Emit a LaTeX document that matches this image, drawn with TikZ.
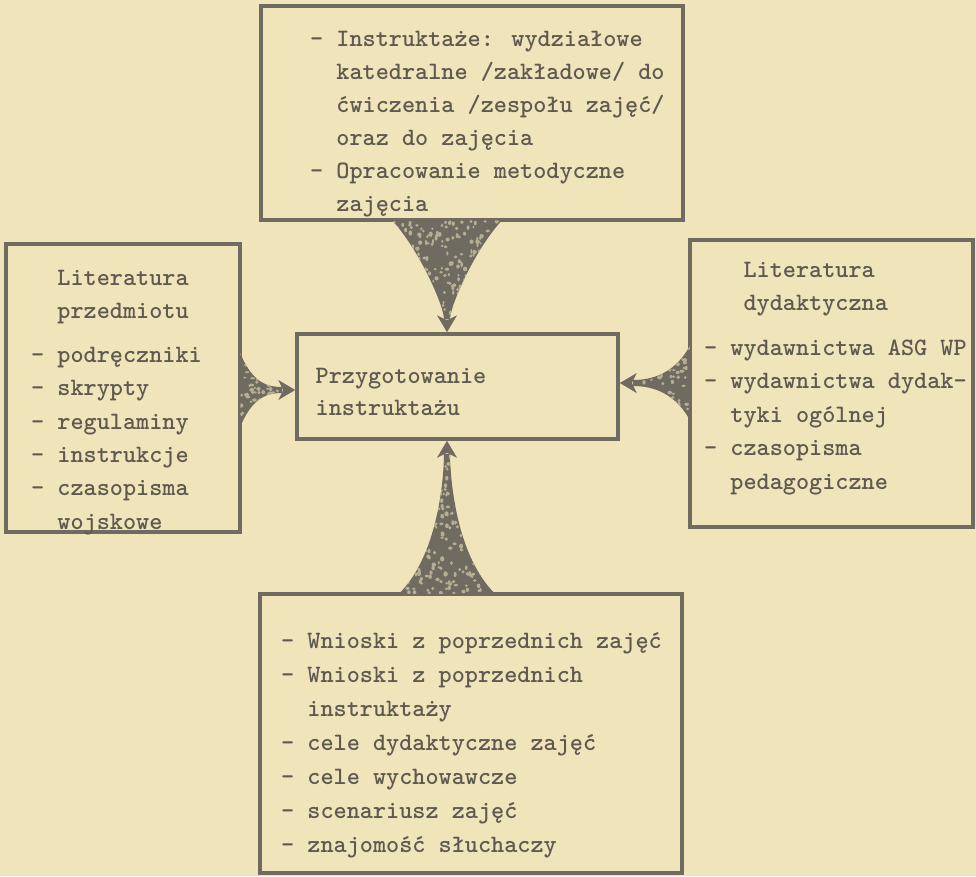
\documentclass[tikz,border=0pt]{standalone}
\usepackage{tikz}
\definecolor{paper}{RGB}{240,228,187}
\definecolor{ink}{RGB}{112,107,96}
\definecolor{txtink}{RGB}{95,90,80}
\tikzset{
  box/.style={draw=ink, line width=3.5pt, anchor=north west, inner sep=0pt, outer sep=0pt},
  txt/.style={anchor=base west, inner sep=0pt, text=txtink, font=\fontsize{25}{34}\selectfont\ttfamily\bfseries},
  speck/.style={fill=paper!55!ink},
}
\newcommand\ind{\hphantom{-~}}
% #1 tip coordinate, #2 rotation, #3 length, #4 half width, #5 flare, #6 seed
\newcommand\myfunnel[6]{%
  \begin{scope}[shift={(#1)}, rotate=#2]
    \begin{scope}
      \clip (-#3,-#4) .. controls ({-#3+0.3*(#3-13)},{-#5*#4}) and (-26,-3) .. (-13,-3)
            -- (-13,3) .. controls (-26,3) and ({-#3+0.3*(#3-13)},{#5*#4}) .. (-#3,#4) -- cycle;
      \fill[ink] ({-#3-2},{-#4-2}) rectangle (0,{#4+2});
      \pgfmathsetseed{#6}
      \pgfmathtruncatemacro\nsp{#3*#4/22}
      \foreach \k in {1,...,\nsp}{\fill[speck] ({-#3*rnd},{#4*(2*rnd-1)}) ellipse ({1.2+1.4*rnd} and {1+1.2*rnd});}
    \end{scope}
    \fill[ink] (-17,-10) -- (0,0) -- (-17,10) -- (-12,0) -- cycle;
  \end{scope}}
\begin{document}
\begin{tikzpicture}[x=1pt, y=-1pt]
\useasboundingbox (0,0) rectangle (976,876);
\fill[paper] (0,0) rectangle (976,876);

% boxes
\node[box, minimum width=422pt, minimum height=214pt] (topb) at (261,6) {};
\node[box, minimum width=234pt, minimum height=288pt] (leftb) at (6,244) {};
\node[box, minimum width=321pt, minimum height=105pt] (center) at (297,334) {};
\node[box, minimum width=283pt, minimum height=287pt] (rightb) at (690,240) {};
\node[box, minimum width=422pt, minimum height=279pt] (botb) at (260,594) {};

% funnel tips on the central box
\path (center.north) ++(-10.5,-1.75) coordinate (tipT);
\path (center.south) ++(-10.5,1.75) coordinate (tipB);
\path (center.west) ++(-1.75,3.5) coordinate (tipL);
\path (center.east) ++(1.75,-3.5) coordinate (tipR);

\myfunnel{tipT}{-90}{112}{55}{0.5}{11}
\myfunnel{tipB}{90}{153}{48}{0.12}{23}
\myfunnel{tipL}{0}{55}{37}{0.15}{37}
\myfunnel{tipR}{180}{70}{37}{0.15}{41}

% texts
\foreach \s [count=\i] in {{-~Instruktaże: wydziałowe},{\ind katedralne /zakładowe/ do},{\ind ćwiczenia /zespołu zajęć/},{\ind oraz do zajęcia},{-~Opracowanie metodyczne},{\ind zajęcia}}
  \node[txt] (tt\i) at (310,{46+33*(\i-1)}) {\s};

\foreach \s [count=\i] in {{\ind Literatura},{\ind przedmiotu},{-~podręczniki},{-~skrypty},{-~regulaminy},{-~instrukcje},{-~czasopisma},{\ind wojskowe}}
  \node[txt] (tl\i) at (31,{285+33.3*(\i-1)+11*(\i>2)}) {\s};

\foreach \s [count=\i] in {{\ind~Literatura},{\ind~dydaktyczna},{-~wydawnictwa ASG WP},{-~wydawnictwa dydak-},{\ind tyki ogólnej},{-~czasopisma},{\ind pedagogiczne}}
  \node[txt] (tr\i) at (704,{277+33.5*(\i-1)+11*(\i>2)}) {\s};

\foreach \s [count=\i] in {{Przygotowanie},{instruktażu}}
  \node[txt] (tc\i) at (315.5,{383+32*(\i-1)}) {\s};

\foreach \s [count=\i] in {{-~Wnioski z poprzednich zajęć},{-~Wnioski z poprzednich},{\ind instruktaży},{-~cele dydaktyczne zajęć},{-~cele wychowawcze},{-~scenariusz zajęć},{-~znajomość słuchaczy}}
  \node[txt] (tb\i) at (281,{648+34*(\i-1)}) {\s};
\end{tikzpicture}
\end{document}
